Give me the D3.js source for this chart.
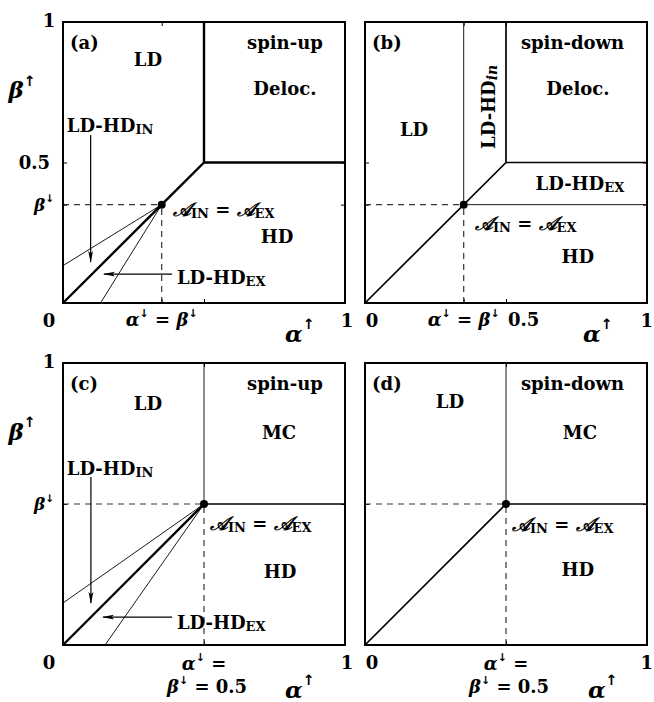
<!DOCTYPE html>
<html><head><meta charset="utf-8">
<script src="https://cdn.jsdelivr.net/npm/d3@7"></script>
<style>
body{margin:0;background:#fff}
text{font-family:"DejaVu Serif","Liberation Serif",serif;font-weight:bold;fill:#000}
</style>
</head><body>
<svg id="chart" width="654" height="702"></svg>
<script>
// ---------- data ----------
const panelTags = ["(a)", "(b)", "(c)", "(d)"];
const spinTags = ["spin-up", "spin-down", "spin-up", "spin-down"];
const downRates = [0.35, 0.35, 0.5, 0.5];          // α↓ = β↓ in each panel
const cornerValue = 0.5;                            // corner of Deloc./MC region
const thinIntercepts = [0.133, 0, 0.149, 0];        // LD-HD_IN / LD-HD_EX thin boundaries
const tickValues = [0, 0.5, 1];
const regionNames = [
  ["LD", "Deloc.", "HD"],
  ["LD", "Deloc.", "HD", "LD-HD_EX", "LD-HD_in"],
  ["LD", "MC", "HD"],
  ["LD", "MC", "HD"]
];
const inArrowSpan = [[0.098, 0.598, 0.146], [0.099, 0.596, 0.149]]; // x, y from, y to
const exArrowSpan = [[0.103, 0.387, 0.145], [0.099, 0.387, 0.142]]; // y, x from, x to

// ---------- layout ----------
const svg = d3.select("#chart");
const FS = 18;
const panelBoxes = [
  {x0: 63, x1: 345, y0: 303, y1: 22},
  {x0: 365, x1: 647, y0: 303, y1: 22},
  {x0: 63, x1: 345, y0: 645, y1: 363},
  {x0: 365, x1: 647, y0: 645, y1: 363}
];

const defs = svg.append("defs");
defs.append("marker").attr("id", "ah").attr("viewBox", "0 0 12 6")
  .attr("refX", 11).attr("refY", 3).attr("markerWidth", 12).attr("markerHeight", 6)
  .attr("markerUnits", "userSpaceOnUse").attr("orient", "auto")
  .append("path").attr("d", "M0,0.6 L12,3 L0,5.4 L2.5,3 Z").attr("fill", "#000");

function calA(sel, sub) {
  sel.append("tspan").attr("font-style", "italic").attr("font-size", 19).text("𝒜");
  sel.append("tspan").attr("font-size", 13).attr("dy", 4).text(sub);
}
function aEq(g, x, y) {
  const t = g.append("text").attr("x", x).attr("y", y).attr("font-size", FS);
  calA(t, "IN");
  t.append("tspan").attr("dy", -4).text(" = ");
  calA(t, "EX");
}
function ldhd(g, x, y, sub, anchor, italicSub) {
  const t = g.append("text").attr("x", x).attr("y", y).attr("font-size", FS)
    .attr("text-anchor", anchor || "start");
  t.append("tspan").text("LD-HD");
  const s = t.append("tspan").attr("font-size", 13).attr("dy", 4).text(sub);
  if (italicSub) s.attr("font-style", "italic").attr("font-size", 14);
  return t;
}
function greek(g, x, y, letter, arrow, size, anchor) {
  const t = g.append("text").attr("x", x).attr("y", y).attr("font-size", size)
    .attr("text-anchor", anchor || "middle");
  t.append("tspan").attr("font-style", "italic").text(letter);
  t.append("tspan").attr("font-size", size * 0.62).attr("dy", -size * 0.38).attr("font-family", "DejaVu Sans").text(arrow);
  return t;
}

panelBoxes.forEach((b, i) => {
  const x = d3.scaleLinear().domain([0, 1]).range([b.x0, b.x1]);
  const y = d3.scaleLinear().domain([0, 1]).range([b.y0, b.y1]);
  const g = svg.append("g");
  const d = downRates[i];
  const c = cornerValue;
  const line = d3.line().x(p => x(p[0])).y(p => y(p[1]));

  // inner ticks
  const tv = Array.from(new Set([d, c]));
  g.append("g").attr("transform", `translate(0,${b.y0})`)
    .call(d3.axisBottom(x).tickValues(tv).tickSize(-4).tickSizeOuter(0).tickFormat(""));
  g.append("g").attr("transform", `translate(0,${b.y1})`)
    .call(d3.axisTop(x).tickValues(tv).tickSize(-4).tickSizeOuter(0).tickFormat(""));
  g.append("g").attr("transform", `translate(${b.x0},0)`)
    .call(d3.axisLeft(y).tickValues(tv).tickSize(-4).tickSizeOuter(0).tickFormat(""));
  g.append("g").attr("transform", `translate(${b.x1},0)`)
    .call(d3.axisRight(y).tickValues(tv).tickSize(-4).tickSizeOuter(0).tickFormat(""));
  g.selectAll(".domain").remove();
  g.selectAll(".tick line").attr("stroke", "#000").attr("stroke-width", 1);

  // dashed guides
  const dashed = [[[0, d], [d, d]], [[d, 0], [d, d]]];
  g.selectAll(null).data(dashed).join("path").attr("d", line)
    .attr("fill", "none").attr("stroke", "#333").attr("stroke-width", 1.2).attr("stroke-dasharray", "6,5");

  let thick = [], medium = [], thin = [];
  if (i === 0) {
    thick = [[[0, 0], [d, d], [c, c]], [[c, c], [c, 1]], [[c, c], [1, c]]];
    thin = [[[0, thinIntercepts[0]], [d, d]], [[thinIntercepts[0], 0], [d, d]]];
  } else if (i === 1) {
    medium = [[[0, 0], [c, c]], [[c, c], [c, 1]], [[c, c], [1, c]]];
    thin = [[[d, d], [d, 1]], [[d, d], [1, d]]];
  } else if (i === 2) {
    thick = [[[0, 0], [d, d]]];
    medium = [[[d, d], [1, d]]];
    thin = [[[d, d], [d, 1]], [[0, thinIntercepts[2]], [d, d]], [[thinIntercepts[2], 0], [d, d]]];
  } else {
    medium = [[[0, 0], [d, d]], [[d, d], [1, d]]];
    thin = [[[d, d], [d, 1]]];
  }
  g.selectAll(null).data(thin).join("path").attr("d", line)
    .attr("fill", "none").attr("stroke", "#000").attr("stroke-width", 0.9);
  g.selectAll(null).data(medium).join("path").attr("d", line)
    .attr("fill", "none").attr("stroke", "#000").attr("stroke-width", 1.7);
  g.selectAll(null).data(thick).join("path").attr("d", line)
    .attr("fill", "none").attr("stroke", "#000").attr("stroke-width", 2.4).attr("stroke-linejoin", "miter");

  // frame
  g.append("rect").attr("x", b.x0).attr("y", b.y1).attr("width", b.x1 - b.x0).attr("height", b.y0 - b.y1)
    .attr("fill", "none").attr("stroke", "#000").attr("stroke-width", 2);

  // dot
  g.append("circle").attr("cx", x(d)).attr("cy", y(d)).attr("r", 4).attr("fill", "#000");

  // arrows
  if (i === 0 || i === 2) {
    const k = i === 0 ? 0 : 1;
    const ia = inArrowSpan[k], ea = exArrowSpan[k];
    g.append("path").attr("d", line([[ia[0], ia[1]], [ia[0], ia[2]]]))
      .attr("stroke", "#000").attr("stroke-width", 1.2).attr("marker-end", "url(#ah)");
    g.append("path").attr("d", line([[ea[1], ea[0]], [ea[2], ea[0]]]))
      .attr("stroke", "#000").attr("stroke-width", 1.2).attr("marker-end", "url(#ah)");
  }

  // labels
  const tl = g.append("g").attr("dominant-baseline", "central");
  tl.append("text").attr("x", x(0.025)).attr("y", y(0.927)).attr("font-size", FS).text(panelTags[i]);
  const spinX = i % 2 === 0 ? 0.787 : 0.736;
  tl.append("text").attr("x", x(spinX)).attr("y", y(0.927)).attr("font-size", FS).attr("text-anchor", "middle").text(spinTags[i]);
  const names = regionNames[i];
  const mid = (xx, yy, t) => tl.append("text").attr("x", x(xx)).attr("y", y(yy)).attr("font-size", FS).attr("text-anchor", "middle").text(t);
  if (i === 0) {
    mid(0.301, 0.865, names[0]); mid(0.787, 0.765, names[1]); mid(0.759, 0.235, names[2]);
    ldhd(tl, x(0.167), y(0.633), "IN", "middle");
    ldhd(tl, x(0.404), y(0.093), "EX", "start");
    aEq(tl, x(0.39), y(0.335));
  } else if (i === 1) {
    mid(0.174, 0.616, names[0]); mid(0.755, 0.765, names[1]); mid(0.755, 0.164, names[2]);
    ldhd(tl, x(0.762), y(0.427), "EX", "middle");
    const r = ldhd(tl, 0, 0, "in", "middle", true);
    r.attr("transform", `translate(${x(0.436)},${y(0.698)}) rotate(-90)`);
    aEq(tl, x(0.39), y(0.285));
  } else if (i === 2) {
    mid(0.301, 0.858, names[0]); mid(0.766, 0.752, names[1]); mid(0.77, 0.259, names[2]);
    ldhd(tl, x(0.167), y(0.628), "IN", "middle");
    ldhd(tl, x(0.404), y(0.082), "EX", "start");
    aEq(tl, x(0.521), y(0.433));
  } else {
    mid(0.301, 0.862, names[0]); mid(0.762, 0.755, names[1]); mid(0.755, 0.266, names[2]);
    aEq(tl, x(0.521), y(0.429));
  }

  // axis labels
  const al = g.append("g").attr("dominant-baseline", "central");
  const num = (xx, yy, t, anchor) => al.append("text").attr("x", xx).attr("y", yy).attr("font-size", FS)
    .attr("text-anchor", anchor || "middle").text(t);
  const left = i % 2 === 0;
  if (left) {
    num(b.x0 - 14, b.y1 - 2, String(tickValues[2]));
    greek(al, b.x0 - 41, y(0.76), "β", "↑", 23);
    if (i === 0) num(b.x0 - 13, y(c), String(tickValues[1]), "end");
    greek(al, b.x0 - 9, y(d), "β", "↓", 17, "end");
    num(b.x0 - 14, b.y0 + 17, String(tickValues[0]));
    num(b.x1 + 2, b.y0 + 17, String(tickValues[2]));
  } else {
    num(b.x0 + 7, b.y0 + 17, String(tickValues[0]));
    num(653, b.y0 + 17, String(tickValues[2]), "end");
  }
  if (i < 2) {
    const t = al.append("text").attr("x", x(d)).attr("y", b.y0 + 16).attr("font-size", FS).attr("text-anchor", "middle");
    t.append("tspan").attr("font-style", "italic").text("α");
    t.append("tspan").attr("font-size", 11).attr("dy", -6).attr("font-family", "DejaVu Sans").text("↓");
    t.append("tspan").attr("dy", 6).text(" = ");
    t.append("tspan").attr("font-style", "italic").text("β");
    t.append("tspan").attr("font-size", 11).attr("dy", -6).attr("font-family", "DejaVu Sans").text("↓");
    if (i === 1) num(x(c) + 2, b.y0 + 16, String(tickValues[1]), "start");
    greek(al, x(i === 0 ? 0.84 : 0.826), b.y0 + 30, "α", "↑", 23);
  } else {
    const t1 = al.append("text").attr("x", x(d)).attr("y", b.y0 + 18).attr("font-size", FS).attr("text-anchor", "middle");
    t1.append("tspan").attr("font-style", "italic").text("α");
    t1.append("tspan").attr("font-size", 11).attr("dy", -6).attr("font-family", "DejaVu Sans").text("↓");
    t1.append("tspan").attr("dy", 6).text(" =");
    const t2 = al.append("text").attr("x", x(d) + 3).attr("y", b.y0 + 41).attr("font-size", FS).attr("text-anchor", "middle");
    t2.append("tspan").attr("font-style", "italic").text("β");
    t2.append("tspan").attr("font-size", 11).attr("dy", -6).attr("font-family", "DejaVu Sans").text("↓");
    t2.append("tspan").attr("dy", 6).text(" = " + tickValues[1]);
    greek(al, x(i === 2 ? 0.84 : 0.843), b.y0 + 44, "α", "↑", 23);
  }
});
</script>
</body></html>
